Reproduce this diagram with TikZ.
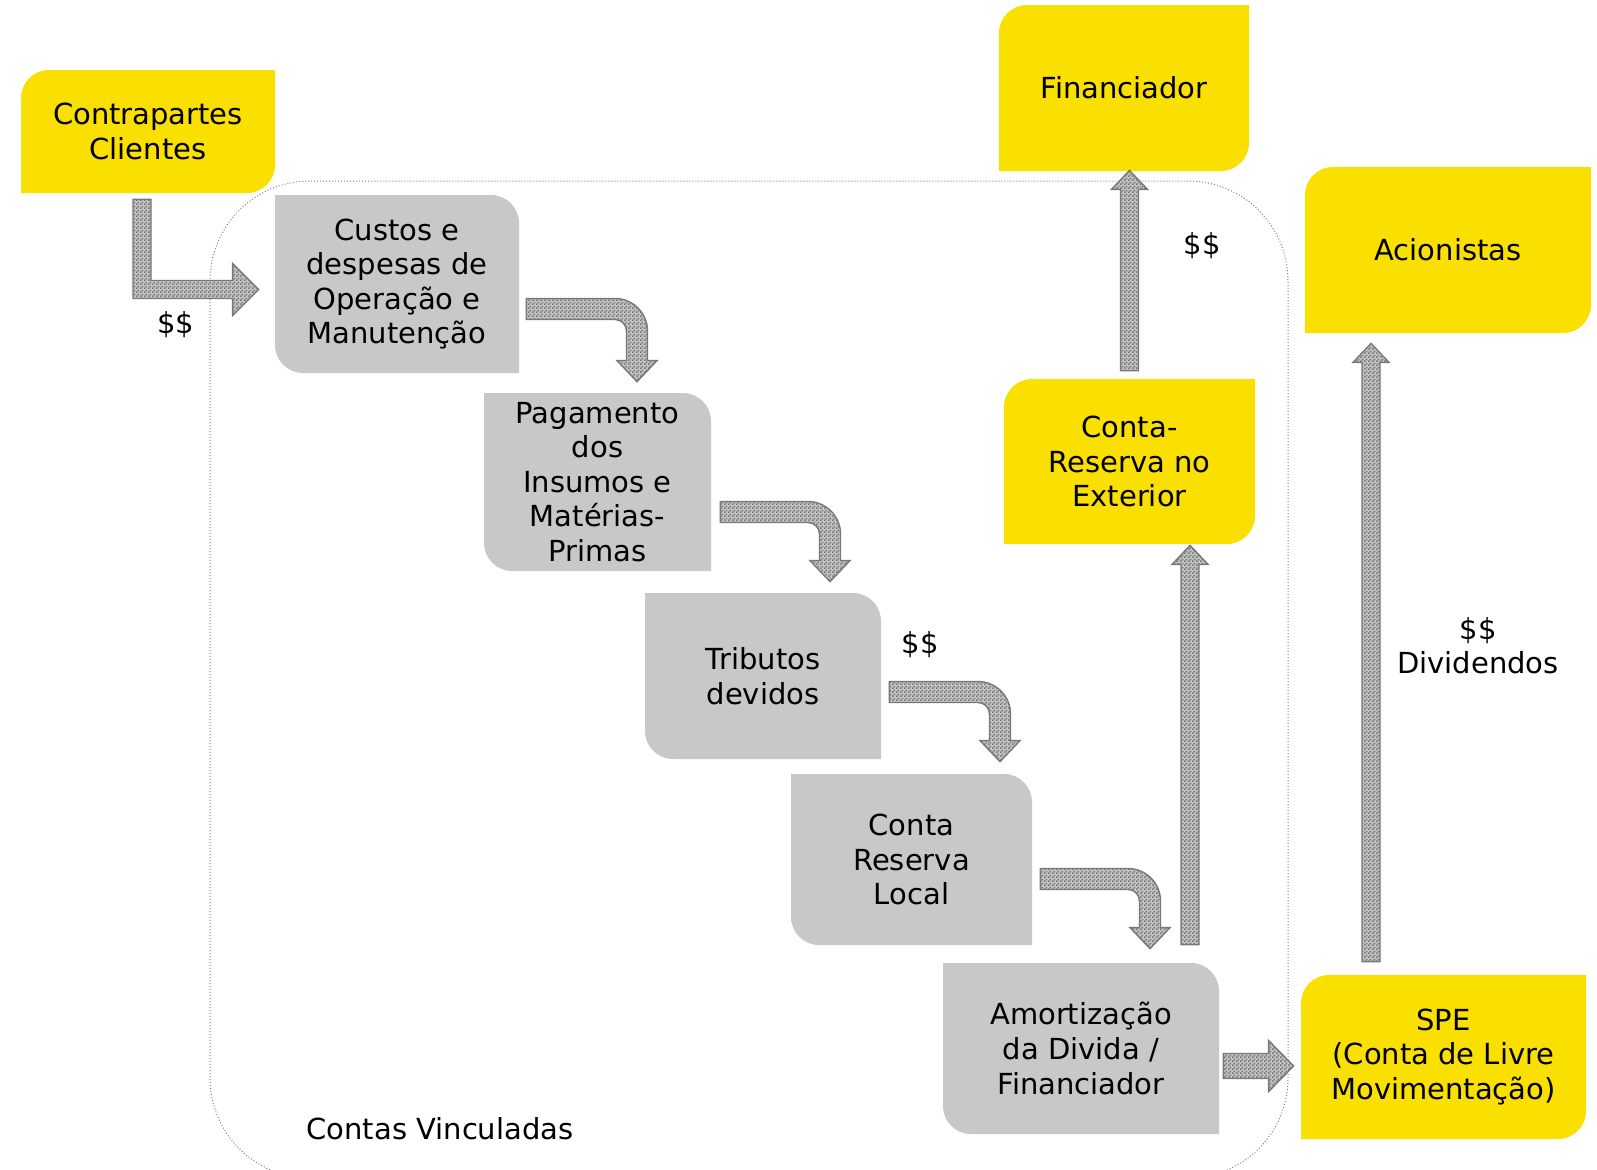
\documentclass[tikz,border=0pt]{standalone}
\usepackage{fontspec}
\setmainfont{DejaVu Sans}
\usetikzlibrary{calc,patterns.meta}
\definecolor{eyyellow}{RGB}{250,224,0}
\definecolor{boxgray}{RGB}{200,200,200}
\definecolor{arrowgray}{RGB}{120,120,120}
\definecolor{checkgray}{RGB}{120,120,120}
\definecolor{checkback}{RGB}{195,195,195}
% fine checker fill of the block arrows
\tikzdeclarepattern{
    name=finecheck,
    type=uncolored,
    tile size={(2pt,2pt)},
    bounding box={(0,0) and (2pt,2pt)},
    code={\fill (0,0) rectangle (1pt,1pt); \fill (1pt,1pt) rectangle (2pt,2pt);}
}
% box backgrounds (two rounded corners)
\newcommand{\yellowshape}{\fill[eyyellow] (path picture bounding box.south west)
    -- ([yshift=-14pt]path picture bounding box.north west) arc[start angle=180,end angle=90,radius=14pt]
    -- (path picture bounding box.north east)
    -- ([yshift=14pt]path picture bounding box.south east) arc[start angle=0,end angle=-90,radius=14pt]
    -- cycle;}
\newcommand{\grayshape}{\fill[boxgray] ([xshift=14pt]path picture bounding box.south west)
    -- (path picture bounding box.south east)
    -- ([yshift=-14pt]path picture bounding box.north east) arc[start angle=0,end angle=90,radius=14pt]
    -- (path picture bounding box.north west)
    -- ([yshift=14pt]path picture bounding box.south west) arc[start angle=180,end angle=270,radius=14pt]
    -- cycle;}
% block arrows
\newcommand{\bentarrow}[2]{%
  \filldraw[blockarrow] let \p1=(#1), \p2=(#2) in
    (\x1,\y1+5.25pt) -- (\x2-11pt,\y1+5.25pt) arc[start angle=90,end angle=0,radius=16.25pt]
    -- (\x2+5.25pt,\y2+10.5pt) -- (\x2+10pt,\y2+10.5pt) -- (\x2,\y2) -- (\x2-10pt,\y2+10.5pt)
    -- (\x2-5.25pt,\y2+10.5pt) -- (\x2-5.25pt,\y1-11pt) arc[start angle=0,end angle=90,radius=5.75pt]
    -- (\x1,\y1-5.25pt) -- cycle;}
\newcommand{\uparrowblk}[2]{%
  \filldraw[blockarrow] let \p1=(#1), \p2=(#2) in
    (\x1-4.5pt,\y1) -- (\x1-4.5pt,\y2-9.5pt) -- (\x1-9pt,\y2-9.5pt) -- (\x1,\y2)
    -- (\x1+9pt,\y2-9.5pt) -- (\x1+4.5pt,\y2-9.5pt) -- (\x1+4.5pt,\y1) -- cycle;}
\newcommand{\rightarrowblk}[2]{%
  \filldraw[blockarrow] let \p1=(#1), \p2=(#2) in
    (\x1,\y1+6.25pt) -- (\x2-12.5pt,\y1+6.25pt) -- (\x2-12.5pt,\y1+12.75pt) -- (\x2,\y1)
    -- (\x2-12.5pt,\y1-12.75pt) -- (\x2-12.5pt,\y1-6.25pt) -- (\x1,\y1-6.25pt) -- cycle;}
\newcommand{\elbowarrow}[2]{%
  \filldraw[blockarrow] let \p1=(#1), \p2=(#2) in
    (\x1-4.5pt,\y1) -- (\x1-4.5pt,\y2-4.5pt) -- (\x2-13pt,\y2-4.5pt) -- (\x2-13pt,\y2-13pt)
    -- (\x2,\y2) -- (\x2-13pt,\y2+13pt) -- (\x2-13pt,\y2+4.5pt) -- (\x1+4.5pt,\y2+4.5pt)
    -- (\x1+4.5pt,\y1) -- cycle;}
\tikzset{
    %Define style for boxes
    boxtext/.style={
           inner sep=0pt,
           align=center,
           font=\fontsize{14.5}{17.3}\selectfont,
           },
    yellowbox/.style 2 args={
           boxtext,
           minimum width=#1,
           minimum height=#2,
           path picture={\yellowshape},
           },
    graybox/.style 2 args={
           boxtext,
           minimum width=#1,
           minimum height=#2,
           path picture={\grayshape},
           },
    money/.style={boxtext},
    % Define arrow style
    blockarrow/.style={
           draw=arrowgray,
           line width=0.7pt,
           preaction={fill=checkback},
           pattern={finecheck},
           pattern color=checkgray,
           },
    vinculo/.style={
           draw=gray,
           line width=0.5pt,
           dash pattern=on 0.5pt off 1pt,
           rounded corners=50pt,
           },
}
\begin{document}
\begin{tikzpicture}[x=0.5pt,y=-0.5pt]
\useasboundingbox (0,0) rectangle (1597,1169);
\draw[vinculo] (210,181) rectangle (1288,1178);
\node[boxtext] (contas) at (440,1129) {Contas Vinculadas};

\node[yellowbox={127pt}{61.5pt}] (contra) at (148,131.5) {Contrapartes\\Clientes};
\node[yellowbox={125pt}{83pt}] (financ) at (1124,88) {Financiador};
\node[yellowbox={143pt}{83pt}] (acion) at (1448,250) {Acionistas};
\node[yellowbox={125.5pt}{82.5pt}] (exter) at (1129.5,461.5) {Conta-\\Reserva no\\Exterior};
\node[yellowbox={142.5pt}{82pt}] (spe) at (1443.5,1057) {SPE\\(Conta de Livre\\Movimentação)};

\node[graybox={122pt}{89pt}] (custos) at (397,284) {Custos e\\despesas de\\Operação e\\Manutenção};
\node[graybox={113.5pt}{89pt}] (pagam) at (597.5,482) {Pagamento\\dos\\Insumos e\\Matérias-\\Primas};
\node[graybox={118pt}{83pt}] (tribut) at (763,676) {Tributos\\devidos};
\node[graybox={120.5pt}{85.5pt}] (local) at (911.5,859.5) {Conta\\Reserva\\Local};
\node[graybox={138pt}{85.5pt}] (amort) at (1081,1048.5) {Amortização\\da Divida /\\Financiador};

% flows
\elbowarrow{$(contra.south)+(-6,6)$}{$(custos.west)+(-16,5.5)$}
\bentarrow{$(custos.east)+(7,25)$}{$(pagam.north)+(39.5,-11)$}
\bentarrow{$(pagam.east)+(9,30)$}{$(tribut.north)+(67,-11)$}
\bentarrow{$(tribut.east)+(8,16)$}{$(local.north)+(88.5,-12)$}
\bentarrow{$(local.east)+(8,19.5)$}{$(amort.north)+(69,-14)$}
\uparrowblk{$(exter.north)+(0,-8)$}{$(financ.south)+(6,-1)$}
\uparrowblk{$(amort.north)+(109,-18)$}{$(exter.south)+(60,1)$}
\uparrowblk{$(spe.north)+(-72.5,-13)$}{$(acion.south)+(-77,10)$}
\rightarrowblk{$(amort.east)+(4,17.5)$}{$(spe.west)+(-7,9)$}

\node[money] (m1) at (176,325) {\$\$};
\node[money] (m2) at (1202,246) {\$\$};
\node[money] (m3) at (920,645) {\$\$};
\node[money] (m4) at (1478,645.5) {\$\$\\Dividendos};
\end{tikzpicture}
\end{document}
